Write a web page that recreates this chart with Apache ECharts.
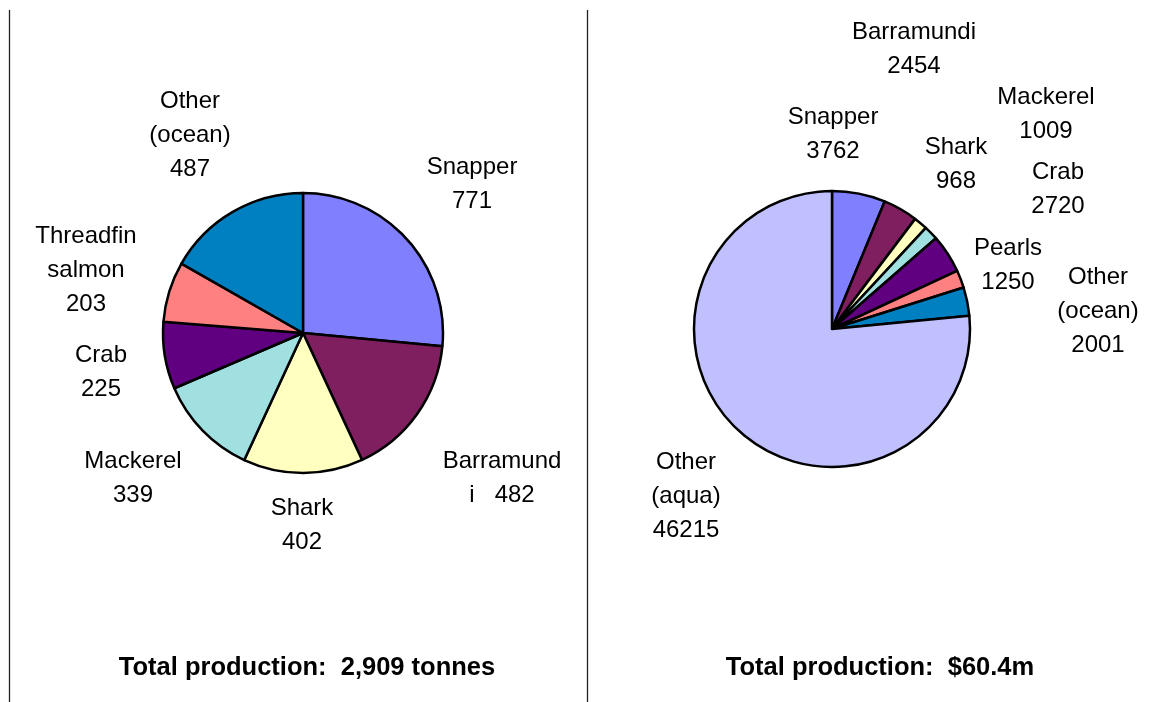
<!DOCTYPE html>
<html>
<head>
<meta charset="utf-8">
<script src="https://cdn.jsdelivr.net/npm/echarts@6/dist/echarts.min.js"></script>
<style>
html,body{margin:0;padding:0;background:#fff;}
#chart{width:1165px;height:702px;}
</style>
</head>
<body>
<div id="chart"></div>
<script>
// ---- data ----
const leftCategories = ['Snapper','Barramundi','Shark','Mackerel','Crab','Threadfin salmon','Other (ocean)'];
const leftValues = [771,482,402,339,225,203,487];
const rightCategories = ['Snapper','Barramundi','Shark','Mackerel','Crab','Pearls','Other (ocean)','Other (aqua)'];
const rightValues = [3762,2454,968,1009,2720,1250,2001,46215];
const leftTitle = 'Total production:  2,909 tonnes';
const rightTitle = 'Total production:  $60.4m';

// ---- styling / layout ----
const colorMap = {
  'Snapper':'#8080FF','Barramundi':'#7F1F5F','Shark':'#FFFFC0','Mackerel':'#A0E0E0',
  'Crab':'#600080','Threadfin salmon':'#FF8080','Pearls':'#FF8080',
  'Other (ocean)':'#0080C0','Other (aqua)':'#C0C0FF'
};
const leftLabelPos = [[472,184],[502,478],[302,525],[133,478],[101,372],[86,270],[190,135]];
const rightLabelPos = [[833,134],[914,49],[956,164],[1046,114],[1058,189],[1008,265],[1098,311],[686,496]];

function labelText(name, value, side) {
  if (side === 'left' && name === 'Barramundi') return 'Barramund\ni   ' + value;
  const wrapped = name.replace('Threadfin salmon','Threadfin\nsalmon').replace(' (','\n(');
  return wrapped + '\n' + value;
}

function makeSeries(cats, vals, center, radius, posArr, side) {
  return {
    type: 'pie',
    center: center,
    radius: radius,
    startAngle: 90,
    clockwise: true,
    animation: false,
    silent: true,
    avoidLabelOverlap: false,
    data: cats.map((c, i) => ({ name: c, value: vals[i], itemStyle: { color: colorMap[c] } })),
    itemStyle: { borderColor: '#000', borderWidth: 2.5 },
    label: {
      show: true,
      position: 'outside',
      formatter: p => labelText(p.name, p.value, side),
      fontFamily: 'Liberation Sans, Arial, sans-serif',
      fontSize: 24,
      lineHeight: 34,
      color: '#000',
      align: 'center'
    },
    labelLine: { show: false },
    labelLayout: function (params) {
      const p = posArr[params.dataIndex];
      return { x: p[0], y: p[1], align: 'center', verticalAlign: 'middle' };
    },
    emphasis: { disabled: true }
  };
}

const chart = echarts.init(document.getElementById('chart'), null, { renderer: 'canvas' });
chart.setOption({
  backgroundColor: '#fff',
  animation: false,
  series: [
    makeSeries(leftCategories, leftValues, [303, 333], 140, leftLabelPos, 'left'),
    makeSeries(rightCategories, rightValues, [832, 329], 138, rightLabelPos, 'right')
  ],
  graphic: [
    { type: 'line', shape: { x1: 9.5, y1: 10, x2: 9.5, y2: 702 }, style: { stroke: '#222', lineWidth: 1.3 } },
    { type: 'line', shape: { x1: 587.5, y1: 10, x2: 587.5, y2: 702 }, style: { stroke: '#222', lineWidth: 1.3 } },
    { type: 'text', x: 307, y: 668, style: { text: leftTitle, font: 'bold 25.5px "Liberation Sans", Arial, sans-serif', fill: '#000', textAlign: 'center', textVerticalAlign: 'middle' } },
    { type: 'text', x: 880, y: 668, style: { text: rightTitle, font: 'bold 25.5px "Liberation Sans", Arial, sans-serif', fill: '#000', textAlign: 'center', textVerticalAlign: 'middle' } }
  ]
});
</script>
</body>
</html>
